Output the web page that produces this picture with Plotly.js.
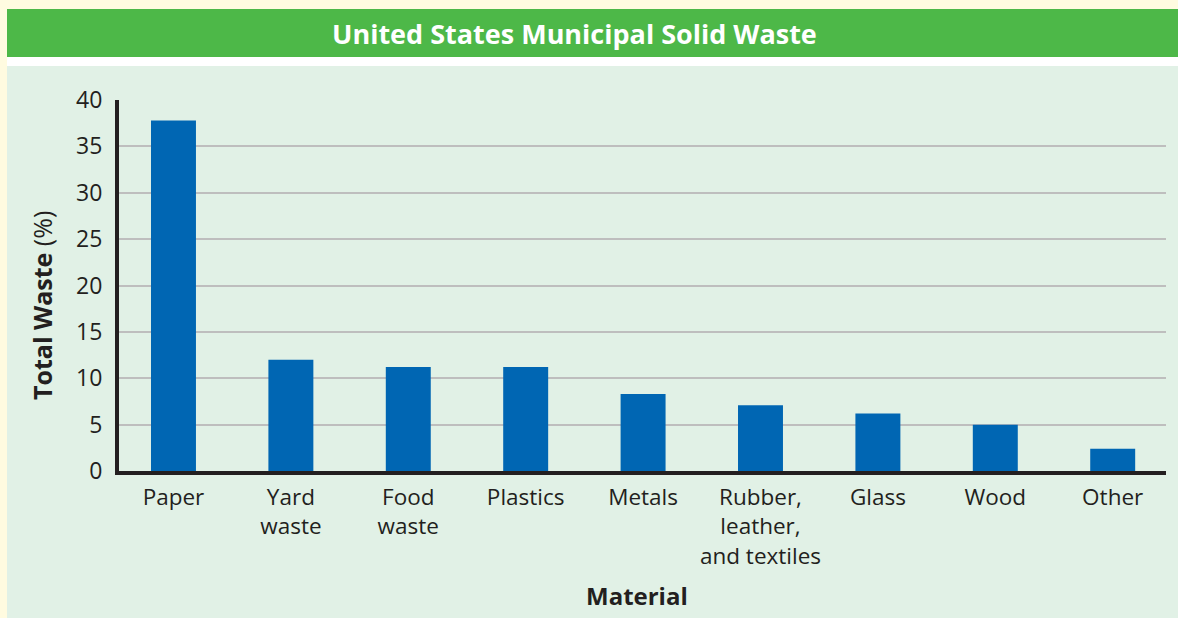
<!DOCTYPE html>
<html>
<head>
<meta charset="utf-8">
<script src="https://cdn.plot.ly/plotly-3.0.1.min.js"></script>
<style>
  html, body { margin: 0; padding: 0; background: #fffbe0; }
  #chart { width: 1178px; height: 618px; }
</style>
</head>
<body>
<div id="chart"></div>
<script>
// ---- data ----
var categories = ["Paper", "Yard waste", "Food waste", "Plastics", "Metals",
                  "Rubber, leather, and textiles", "Glass", "Wood", "Other"];
var tickLabels = ["Paper", "Yard<br>waste", "Food<br>waste", "Plastics", "Metals",
                  "Rubber,<br>leather,<br>and textiles", "Glass", "Wood", "Other"];
var wastePercent = [37.8, 12.0, 11.2, 11.2, 8.3, 7.1, 6.2, 5.0, 2.4];
var yTicks = [0, 5, 10, 15, 20, 25, 30, 35, 40];
var chartTitle = "United States Municipal Solid Waste";
var yTitle = "<b>Total Waste</b> (%)";
var xTitle = "<b>Material</b>";

// ---- layout geometry (pixels) ----
var W = 1178, H = 618;
var M = { l: 119, r: 12, t: 100, b: 147 };
var pw = W - M.l - M.r, ph = H - M.t - M.b;
function px(x) { return (x - M.l) / pw; }
function py(y) { return (H - M.b - y) / ph; }

var textColor = "#231f20";
var font = "'Open Sans', 'Noto Sans', sans-serif";

var trace = {
  type: "bar",
  x: categories,
  y: wastePercent,
  width: 0.383,
  marker: { color: "#0066b3", line: { width: 0 } },
  hoverinfo: "x+y"
};

var layout = {
  width: W, height: H,
  margin: M,
  paper_bgcolor: "#fffbe0",
  plot_bgcolor: "rgba(0,0,0,0)",
  showlegend: false,
  font: { family: font, color: textColor },
  xaxis: {
    type: "category",
    range: [-0.464, 8.454],
    tickmode: "array",
    tickvals: categories,
    ticktext: tickLabels,
    tickfont: { size: 22.5, color: textColor, family: font },
    showline: true, linecolor: textColor, linewidth: 4,
    ticks: "", ticklabelstandoff: 3,
    showgrid: false, zeroline: false, fixedrange: true
  },
  yaxis: {
    range: [0, 40],
    tickmode: "array",
    tickvals: yTicks,
    ticktext: yTicks.map(String),
    tickfont: { size: 23, color: textColor, family: font },
    showline: true, linecolor: textColor, linewidth: 4,
    ticks: "", ticklabelstandoff: 8,
    showgrid: true, gridcolor: "#bebebe", gridwidth: 2,
    zeroline: false, fixedrange: true
  },
  shapes: [
    // light green panel
    { type: "rect", xref: "paper", yref: "paper", layer: "below",
      x0: px(7), x1: px(1178), y0: py(618), y1: py(66),
      fillcolor: "#e1f1e6", line: { width: 0 } },
    // white strip
    { type: "rect", xref: "paper", yref: "paper", layer: "below",
      x0: px(7), x1: px(1178), y0: py(66), y1: py(57),
      fillcolor: "#ffffff", line: { width: 0 } },
    // green banner
    { type: "rect", xref: "paper", yref: "paper", layer: "below",
      x0: px(7), x1: px(1178), y0: py(57), y1: py(9),
      fillcolor: "#4db848", line: { width: 0 } }
  ],
  annotations: [
    { text: "<b>" + chartTitle + "</b>", xref: "paper", yref: "paper",
      x: px(574), y: py(33), xanchor: "center", yanchor: "middle", showarrow: false,
      font: { size: 27, color: "#ffffff", family: font } },
    { text: yTitle, xref: "paper", yref: "paper", textangle: -90,
      x: px(42), y: py(306), xanchor: "center", yanchor: "middle", showarrow: false,
      font: { size: 25, color: textColor, family: font } },
    { text: xTitle, xref: "paper", yref: "paper",
      x: px(637), y: py(595), xanchor: "center", yanchor: "middle", showarrow: false,
      font: { size: 24, color: textColor, family: font } }
  ]
};

Plotly.newPlot("chart", [trace], layout, { displayModeBar: false, staticPlot: true });
</script>
</body>
</html>
